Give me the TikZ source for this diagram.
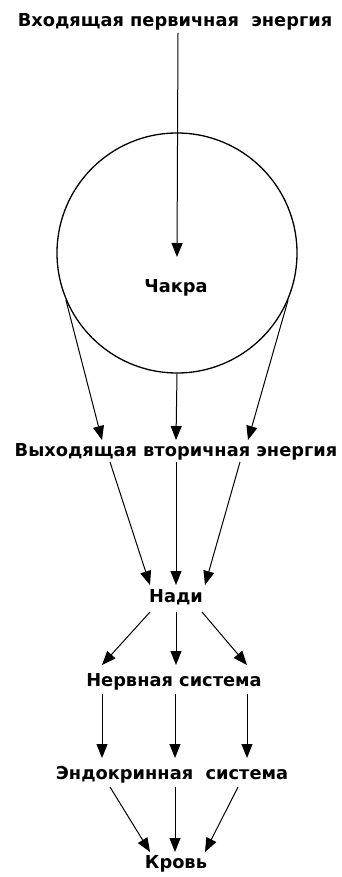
\documentclass[tikz,border=0pt]{standalone}
\usepackage{fontspec}
\setmainfont{DejaVu Sans}
\usetikzlibrary{calc,arrows.meta}

\begin{document}
\begin{tikzpicture}[x=1pt, y=-1pt,
    lbl/.style={font=\bfseries\fontsize{17.8}{20}\selectfont, inner sep=1pt},
    arr/.style={line width=1pt, -{Triangle[length=14pt,width=11pt]}}]
    \useasboundingbox (0,0) rectangle (342,877);

    % labels
    \node[lbl] (in) at (175,22) {Входящая первичная\ \ энергия};
    \node[draw, line width=1.3pt, circle, minimum size=240pt, inner sep=0pt] (chakra) at (177,253) {};
    \node[lbl] (chakratext) at (176,288) {Чакра};
    \node[lbl] (out) at (176,452) {Выходящая вторичная энергия};
    \node[lbl] (nadi) at (176,597) {Нади};
    \node[lbl] (nerv) at (174,682) {Нервная система};
    \node[lbl] (endo) at (172,775) {Эндокринная\ \ система};
    \node[lbl] (krov) at (176,864) {Кровь};

    % incoming energy
    \draw[arr] ($(in.center)+(3,11)$) -- ($(chakra.center)+(0,4)$);

    % chakra to outgoing energy
    \draw[arr] (chakra.203) -- ($(out.center)+(-74,-12)$);
    \draw[arr] (chakra.south) -- ($(out.center)+(0,-12)$);
    \draw[arr] (chakra.-23) -- ($(out.center)+(72,-12)$);

    % outgoing energy to nadi
    \draw[arr] ($(out.center)+(-66,10)$) -- ($(nadi.center)+(-26,-12)$);
    \draw[arr] ($(out.center)+(0,10)$) -- ($(nadi.center)+(0,-12)$);
    \draw[arr] ($(out.center)+(64,10)$) -- ($(nadi.center)+(29,-12)$);

    % nadi to nervous system
    \draw[arr] ($(nadi.center)+(-26,15)$) -- ($(nerv.center)+(-72,-17)$);
    \draw[arr] ($(nadi.center)+(0,15)$) -- ($(nerv.center)+(2,-17)$);
    \draw[arr] ($(nadi.center)+(26,15)$) -- ($(nerv.center)+(73,-17)$);

    % nervous to endocrine system
    \draw[arr] ($(nerv.center)+(-72,12)$) -- ($(endo.center)+(-70,-17)$);
    \draw[arr] ($(nerv.center)+(1,12)$) -- ($(endo.center)+(3,-17)$);
    \draw[arr] ($(nerv.center)+(73,12)$) -- ($(endo.center)+(75,-17)$);

    % endocrine system to blood
    \draw[arr] ($(endo.center)+(-62,12)$) -- ($(krov.center)+(-26,-12)$);
    \draw[arr] ($(endo.center)+(3,12)$) -- ($(krov.center)+(-1,-12)$);
    \draw[arr] ($(endo.center)+(66,12)$) -- ($(krov.center)+(29,-12)$);
\end{tikzpicture}
\end{document}
